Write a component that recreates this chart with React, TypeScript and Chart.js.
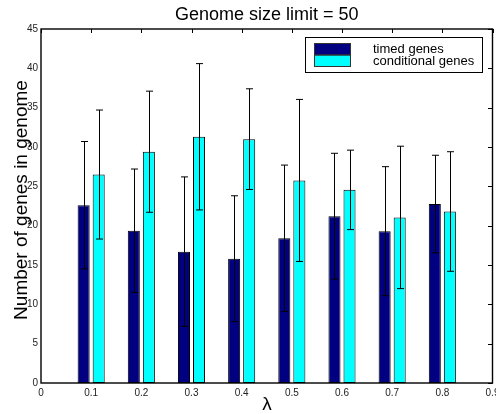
import React, { useEffect, useRef } from "react";
import { Chart, registerables } from "chart.js";

Chart.register(...registerables);

const lambdas = [0.1, 0.2, 0.3, 0.4, 0.5, 0.6, 0.7, 0.8];
const timedMeans = [22.6, 19.35, 16.7, 15.8, 18.4, 21.2, 19.3, 22.75];
const timedErr = [8.1, 7.85, 9.5, 8.0, 9.3, 8.0, 8.2, 6.2];
const condMeans = [26.5, 29.4, 31.3, 31.0, 25.75, 24.55, 21.05, 21.8];
const condErr = [8.2, 7.7, 9.3, 6.4, 10.3, 5.05, 9.05, 7.6];
const xTicks = [0, 0.1, 0.2, 0.3, 0.4, 0.5, 0.6, 0.7, 0.8, 0.9];
const yTicks = [0, 5, 10, 15, 20, 25, 30, 35, 40, 45];
const seriesNames = ["timed genes", "conditional genes"];
const seriesColors = ["#000080", "#00ffff"];
const titleText = "Genome size limit = 50";
const xTitle = "λ";
const yTitle = "Number of genes in genome";

const FONT = "'Liberation Sans', Arial, Helvetica, sans-serif";

const decorPlugin = {
  id: "decor",
  afterDatasetsDraw(chart: any) {
    const ctx = chart.ctx;
    const xs = chart.scales.x;
    const ys = chart.scales.y;
    const errs = [timedErr, condErr];
    ctx.save();
    // error bars
    ctx.strokeStyle = "#000";
    ctx.lineWidth = 1;
    chart.data.datasets.forEach((ds: any, di: number) => {
      const meta = chart.getDatasetMeta(di);
      meta.data.forEach((el: any, i: number) => {
        const v = ds.data[i].y;
        const e = errs[di][i];
        const x = Math.round(el.x) + 0.5;
        const yt = ys.getPixelForValue(v + e);
        const yb = ys.getPixelForValue(v - e);
        ctx.beginPath();
        ctx.moveTo(x, yt);
        ctx.lineTo(x, yb);
        ctx.moveTo(x - 3.5, yt);
        ctx.lineTo(x + 3.5, yt);
        ctx.moveTo(x - 3.5, yb);
        ctx.lineTo(x + 3.5, yb);
        ctx.stroke();
      });
    });
    // box
    const a = chart.chartArea;
    ctx.lineWidth = 1.4;
    ctx.strokeRect(a.left, a.top, a.right - a.left, a.bottom - a.top);
    // inward ticks top and right
    ctx.lineWidth = 1;
    ctx.beginPath();
    xTicks.forEach((t) => {
      const px = Math.round(xs.getPixelForValue(t)) + 0.5;
      ctx.moveTo(px, a.top);
      ctx.lineTo(px, a.top + 4);
    });
    yTicks.forEach((t) => {
      const py = Math.round(ys.getPixelForValue(t)) + 0.5;
      ctx.moveTo(a.right, py);
      ctx.lineTo(a.right - 4.5, py);
    });
    ctx.stroke();
    // legend
    const lx = 305.5, ly = 37.5, lw = 177, lh = 35;
    ctx.fillStyle = "#fff";
    ctx.fillRect(lx, ly, lw, lh);
    ctx.lineWidth = 1;
    ctx.strokeStyle = "#000";
    ctx.strokeRect(lx, ly, lw, lh);
    ctx.fillStyle = seriesColors[0];
    ctx.fillRect(314, 43.5, 37, 11.5);
    ctx.fillStyle = seriesColors[1];
    ctx.fillRect(314, 55, 37, 11.5);
    ctx.strokeStyle = "#333";
    ctx.strokeRect(314.5, 43.5, 36, 11.5);
    ctx.strokeRect(314.5, 55, 36, 11.5);
    ctx.fillStyle = "#000";
    ctx.font = `13px ${FONT}`;
    ctx.textAlign = "left";
    ctx.textBaseline = "alphabetic";
    ctx.fillText(seriesNames[0], 373, 53);
    ctx.fillText(seriesNames[1], 373, 65);
    // titles
    ctx.textAlign = "center";
    ctx.font = `18px ${FONT}`;
    ctx.fillText(titleText, (a.left + a.right) / 2, 20);
    ctx.font = `19px ${FONT}`;
    ctx.fillText(xTitle, 267, 410);
    ctx.save();
    ctx.translate(26.5, 200);
    ctx.rotate(-Math.PI / 2);
    ctx.fillText(yTitle, 0, 0);
    ctx.restore();
    ctx.restore();
  },
};

export default function App() {
  const ref = useRef<HTMLCanvasElement>(null);
  useEffect(() => {
    document.body.style.margin = "0";
    const cv = ref.current!;
    const chart = new Chart(cv, {
      type: "bar",
      data: {
        datasets: [
          {
            label: seriesNames[0],
            data: lambdas.map((x, i) => ({ x, y: timedMeans[i] })),
            backgroundColor: seriesColors[0],
            borderColor: "#000",
            borderWidth: 1,
            borderSkipped: false,
          },
          {
            label: seriesNames[1],
            data: lambdas.map((x, i) => ({ x, y: condMeans[i] })),
            backgroundColor: seriesColors[1],
            borderColor: "#000",
            borderWidth: 1,
            borderSkipped: false,
          },
        ],
      },
      options: {
        responsive: false,
        animation: false,
        events: [],
        layout: { padding: { top: 29, right: 3.5, left: 0, bottom: 0 } },
        categoryPercentage: 0.6,
        barPercentage: 0.8,
        plugins: {
          legend: { display: false },
          title: { display: false },
          tooltip: { enabled: false },
        },
        scales: {
          x: {
            type: "linear",
            min: 0,
            max: 0.9,
            offset: false,
            grid: { display: false, drawTicks: false, offset: false },
            border: { display: false },
            afterBuildTicks: (s: any) => {
              s.ticks = xTicks.map((v) => ({ value: v }));
            },
            afterFit: (s: any) => {
              s.height = 31;
              s.paddingLeft = 0;
              s.paddingRight = 0;
            },
            ticks: {
              autoSkip: false,
              maxRotation: 0,
              padding: 4,
              color: "#222",
              font: { family: FONT, size: 10 },
              callback: (v: any) => (v === 0 ? "0" : Number(v).toFixed(1)),
            },
          },
          y: {
            type: "linear",
            min: 0,
            max: 45,
            grid: { display: false, drawTicks: false },
            border: { display: false },
            afterBuildTicks: (s: any) => {
              s.ticks = yTicks.map((v) => ({ value: v }));
            },
            afterFit: (s: any) => {
              s.width = 41;
              s.paddingTop = 0;
              s.paddingBottom = 0;
            },
            ticks: {
              padding: 3,
              color: "#222",
              font: { family: FONT, size: 10 },
              callback: (v: any) => String(v),
            },
          },
        },
      } as any,
      plugins: [decorPlugin],
    });
    return () => chart.destroy();
  }, []);
  return (
    <div style={{ width: 496, height: 414 }}>
      <canvas ref={ref} width={496} height={414} style={{ display: "block" }} />
    </div>
  );
}
